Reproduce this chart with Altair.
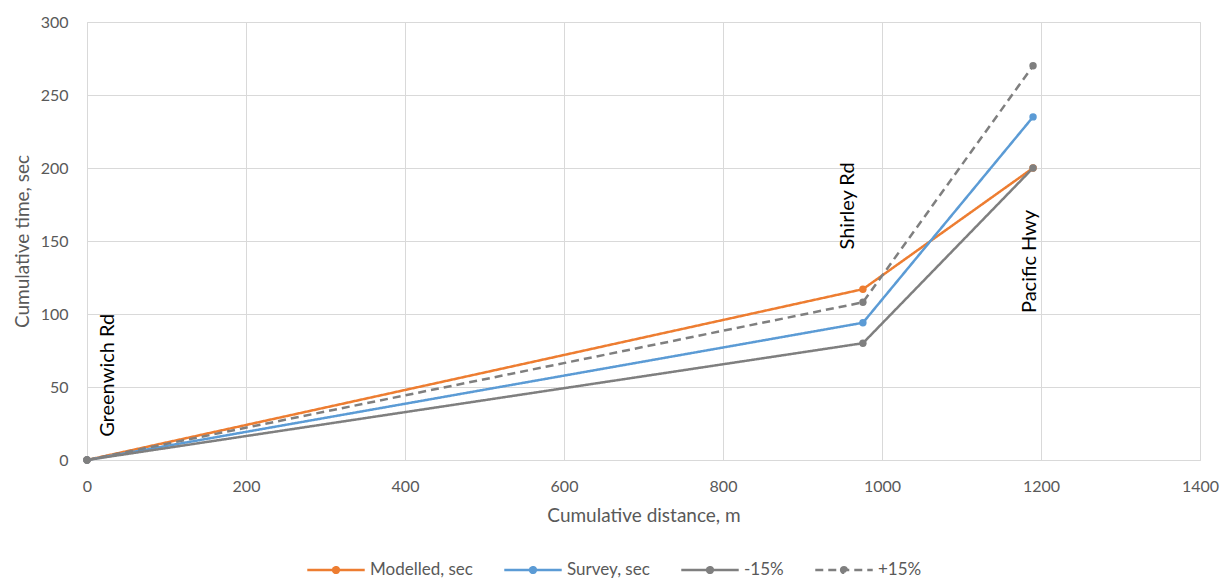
import altair as alt
import pandas as pd

# Data
distance = [0, 976, 1190]
modelled = [0, 117, 200]
survey = [0, 94, 235]
minus15 = [0, 80, 200]
plus15 = [0, 108, 270]
series_names = ["Modelled, sec", "Survey, sec", "-15%", "+15%"]
series_colors = ["#ED7D31", "#5B9BD5", "#7F7F7F", "#7F7F7F"]
series_dash = [[1, 0], [1, 0], [1, 0], [8, 5]]

stop_labels = ["Greenwich Rd", "Shirley Rd", "Pacific Hwy"]
stop_x = [26, 957, 1186]
stop_y = [58, 174, 136]

x_ticks = [0, 200, 400, 600, 800, 1000, 1200, 1400]
y_ticks = [0, 50, 100, 150, 200, 250, 300]

rows = []
for name, vals in zip(series_names, [modelled, survey, minus15, plus15]):
    for d, v in zip(distance, vals):
        rows.append({"series": name, "dist": d, "time": v})
df = pd.DataFrame(rows)
lab_df = pd.DataFrame({"label": stop_labels, "x": stop_x, "y": stop_y})

FONT = "Lato"
GREY = "#595959"

xs = alt.Scale(domain=[0, 1400], nice=False)
ys = alt.Scale(domain=[0, 300], nice=False)

legend_symbol = "M-1,0 L1,0 M-0.1,0 A0.1,0.1 0 1,1 0.1,0 A0.1,0.1 0 1,1 -0.1,0"

color = alt.Color(
    "series:N",
    scale=alt.Scale(domain=series_names, range=series_colors),
    sort=series_names,
    legend=alt.Legend(
        title=None,
        orient="none",
        direction="horizontal",
        legendX=219,
        legendY=518,
        symbolType=legend_symbol,
        symbolSize=3300,
        symbolStrokeWidth=2.5,
        labelFont=FONT,
        labelFontSize=17,
        labelColor=GREY,
        labelOffset=4,
        columnPadding=26,
    ),
)
dash = alt.StrokeDash(
    "series:N",
    scale=alt.Scale(domain=series_names, range=series_dash),
    sort=series_names,
    legend=None,
)

axis_common = dict(
    grid=True,
    gridColor="#D9D9D9",
    domain=False,
    ticks=False,
    labelFlush=False,
    labelFont=FONT,
    titleFont=FONT,
    labelFontSize=16,
    titleFontSize=19,
    titleFontWeight="normal",
    labelColor=GREY,
    titleColor=GREY,
    format="d",
)

base = alt.Chart(df).encode(
    x=alt.X(
        "dist:Q",
        scale=xs,
        axis=alt.Axis(
            title="Cumulative distance, m",
            values=x_ticks,
            labelPadding=18,
            titlePadding=12,
            **axis_common,
        ),
    ),
    y=alt.Y(
        "time:Q",
        scale=ys,
        axis=alt.Axis(
            title="Cumulative time, sec",
            values=y_ticks,
            labelPadding=19,
            titlePadding=8,
            **axis_common,
        ),
    ),
    color=color,
    strokeDash=dash,
    detail="series:N",
)

lines = base.mark_line(strokeWidth=2.5)
points = base.mark_point(filled=True, size=55, opacity=1).encode(strokeDash=alt.value([1, 0]))

labels = alt.Chart(lab_df).mark_text(
    angle=270, align="center", baseline="middle", font=FONT, fontSize=20, color="#000000"
).encode(
    x=alt.X("x:Q", scale=xs),
    y=alt.Y("y:Q", scale=ys),
    text="label:N",
)

chart = (
    alt.layer(lines, points, labels)
    .properties(
        width=1113,
        height=438,
        autosize=alt.AutoSizeParams(type="none"),
        padding={"left": 79, "top": 14, "right": 21, "bottom": 120},
    )
    .configure_view(stroke=None)
    .configure(background="white")
)

chart.save("out.html", embed_options={"renderer": "svg", "actions": False})
